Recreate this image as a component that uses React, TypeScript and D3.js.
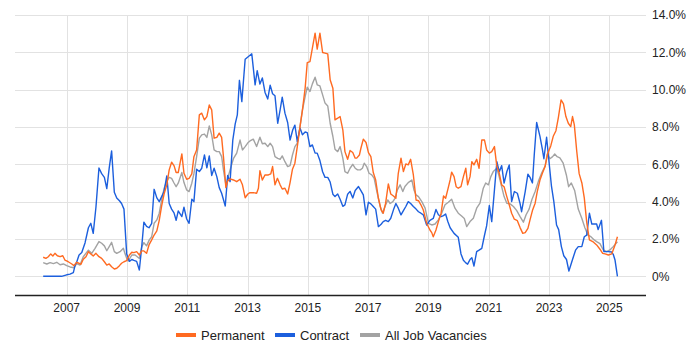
import React from "react";
import * as d3 from "d3";

const yearTicks = [2007, 2009, 2011, 2013, 2015, 2017, 2019, 2021, 2023, 2025];
const valueTicks = [0, 2, 4, 6, 8, 10, 12, 14];
const seriesNames = ["Permanent", "Contract", "All Job Vacancies"];
const seriesColors = ["#ff6a21", "#1c5fdd", "#a3a3a3"];

const permDates = [2006.22,2006.31,2006.39,2006.47,2006.54,2006.61,2006.69,2006.78,2006.87,2006.94,2007.05,2007.17,2007.24,2007.33,2007.41,2007.47,2007.55,2007.64,2007.72,2007.80,2007.88,2007.97,2008.07,2008.16,2008.25,2008.33,2008.41,2008.49,2008.58,2008.66,2008.75,2008.82,2008.90,2008.99,2009.08,2009.16,2009.23,2009.32,2009.41,2009.49,2009.56,2009.65,2009.73,2009.82,2009.90,2009.99,2010.07,2010.15,2010.23,2010.32,2010.40,2010.48,2010.56,2010.63,2010.70,2010.82,2010.89,2010.98,2011.06,2011.15,2011.22,2011.31,2011.40,2011.48,2011.57,2011.65,2011.73,2011.81,2011.89,2011.98,2012.06,2012.14,2012.20,2012.28,2012.34,2012.42,2012.53,2012.64,2012.75,2012.83,2012.92,2013.01,2013.08,2013.19,2013.30,2013.36,2013.41,2013.49,2013.58,2013.69,2013.77,2013.83,2013.91,2013.99,2014.08,2014.15,2014.24,2014.33,2014.41,2014.49,2014.57,2014.65,2014.74,2014.82,2014.91,2014.98,2015.07,2015.15,2015.24,2015.31,2015.40,2015.49,2015.57,2015.66,2015.74,2015.83,2015.90,2015.99,2016.07,2016.16,2016.23,2016.32,2016.40,2016.49,2016.57,2016.62,2016.71,2016.76,2016.84,2016.93,2017.01,2017.09,2017.17,2017.25,2017.34,2017.43,2017.50,2017.58,2017.67,2017.75,2017.84,2017.92,2018.00,2018.09,2018.17,2018.25,2018.33,2018.41,2018.50,2018.59,2018.67,2018.75,2018.83,2018.94,2019.05,2019.11,2019.16,2019.25,2019.33,2019.42,2019.50,2019.57,2019.64,2019.72,2019.77,2019.85,2019.92,2019.99,2020.08,2020.16,2020.24,2020.30,2020.38,2020.44,2020.51,2020.60,2020.68,2020.77,2020.86,2020.93,2021.02,2021.10,2021.19,2021.27,2021.35,2021.43,2021.51,2021.60,2021.68,2021.76,2021.85,2021.95,2022.04,2022.13,2022.21,2022.30,2022.37,2022.45,2022.54,2022.61,2022.70,2022.78,2022.87,2022.96,2023.06,2023.14,2023.23,2023.31,2023.40,2023.48,2023.56,2023.64,2023.72,2023.78,2023.84,2023.92,2024.00,2024.09,2024.17,2024.25,2024.34,2024.45,2024.58,2024.69,2024.78,2024.86,2024.97,2025.08,2025.19,2025.27];
const permValues = [1.02,0.96,1.05,1.2,1.09,1.23,1.1,1.05,1.1,0.87,0.78,0.66,0.57,0.75,0.7,0.64,0.91,1.05,1.32,1.2,1.09,1.23,1.05,0.96,0.78,0.6,0.66,0.51,0.39,0.43,0.57,0.7,0.78,0.84,1.14,1.29,1.27,1.32,1.14,1.36,1.36,1.23,1.68,1.95,2.21,2.43,3.0,3.77,4.41,4.9,5.7,6.11,5.93,5.56,5.56,6.56,5.52,5.2,5.25,5.49,6.41,6.77,8.65,8.74,8.38,8.56,9.18,8.92,7.4,7.44,7.67,7.44,6.41,4.75,5.1,5.22,5.16,5.07,5.2,4.9,4.21,4.41,4.48,4.48,4.45,4.72,5.66,5.16,5.43,5.43,5.49,5.88,4.9,5.25,4.9,4.68,4.72,4.41,5.02,5.74,6.06,6.95,8.02,8.9,10.08,11.45,11.5,12.22,13.03,12.17,13.03,11.99,11.96,11.92,10.53,10.08,8.38,8.47,8.56,7.85,6.68,6.27,6.74,6.63,6.33,6.33,6.5,6.86,7.35,7.17,6.63,6.41,5.56,5.16,4.18,3.56,3.38,3.92,4.95,4.41,4.3,4.18,5.52,6.33,5.61,6.02,5.97,6.27,5.43,4.09,4.05,3.83,3.55,2.84,2.48,2.34,2.12,2.48,2.93,3.38,4.3,4.18,4.63,5.16,5.58,5.34,4.8,4.72,4.8,5.34,5.79,4.9,5.34,6.14,5.97,6.27,5.79,7.3,7.3,6.77,6.6,6.68,6.95,5.88,5.52,4.9,4.8,4.27,3.83,3.38,3.06,2.98,2.61,2.3,2.34,2.57,3.02,3.52,3.92,4.54,5.16,5.52,5.88,6.6,7.0,7.5,7.8,8.5,9.45,9.24,8.56,8.2,8.02,8.56,8.11,6.7,5.5,5.0,4.2,2.9,1.95,1.86,1.68,1.45,1.23,1.2,1.14,1.2,1.68,2.12];

const contDates = [2006.22,2006.47,2006.61,2006.83,2007.00,2007.11,2007.22,2007.28,2007.33,2007.41,2007.50,2007.61,2007.72,2007.80,2007.88,2007.97,2008.07,2008.16,2008.25,2008.33,2008.41,2008.49,2008.58,2008.66,2008.75,2008.82,2008.90,2008.99,2009.08,2009.16,2009.23,2009.32,2009.41,2009.49,2009.56,2009.65,2009.73,2009.82,2009.90,2009.99,2010.07,2010.15,2010.23,2010.32,2010.40,2010.48,2010.56,2010.63,2010.70,2010.82,2010.89,2010.98,2011.06,2011.15,2011.22,2011.31,2011.40,2011.48,2011.57,2011.65,2011.73,2011.81,2011.89,2011.98,2012.06,2012.14,2012.26,2012.34,2012.42,2012.51,2012.59,2012.66,2012.73,2012.81,2012.92,2013.03,2013.14,2013.25,2013.32,2013.41,2013.49,2013.58,2013.67,2013.75,2013.83,2013.91,2014.00,2014.08,2014.15,2014.24,2014.33,2014.41,2014.50,2014.57,2014.65,2014.74,2014.82,2014.91,2014.98,2015.07,2015.15,2015.24,2015.31,2015.40,2015.49,2015.57,2015.66,2015.74,2015.83,2015.90,2015.99,2016.07,2016.16,2016.23,2016.32,2016.40,2016.49,2016.57,2016.68,2016.76,2016.84,2016.93,2017.01,2017.09,2017.17,2017.25,2017.34,2017.43,2017.50,2017.58,2017.67,2017.75,2017.84,2017.92,2018.00,2018.09,2018.17,2018.25,2018.33,2018.41,2018.50,2018.59,2018.67,2018.75,2018.83,2018.94,2019.05,2019.16,2019.25,2019.33,2019.42,2019.50,2019.57,2019.64,2019.72,2019.85,2019.99,2020.08,2020.16,2020.24,2020.30,2020.38,2020.44,2020.51,2020.60,2020.68,2020.77,2020.86,2020.93,2021.02,2021.10,2021.19,2021.27,2021.35,2021.43,2021.51,2021.60,2021.68,2021.76,2021.85,2021.95,2022.04,2022.09,2022.21,2022.30,2022.37,2022.45,2022.51,2022.59,2022.70,2022.78,2022.83,2022.92,2022.99,2023.08,2023.16,2023.25,2023.32,2023.41,2023.49,2023.58,2023.66,2023.78,2023.88,2023.97,2024.09,2024.17,2024.25,2024.34,2024.42,2024.58,2024.63,2024.74,2024.82,2024.97,2025.08,2025.13,2025.19,2025.27];
const contValues = [0,0,0,0,0.08,0.12,0.2,0.6,0.75,1.14,1.27,1.8,2.6,2.84,2.3,3.7,5.8,5.5,5.3,4.7,5.8,6.72,4.5,4.2,4.05,3.9,3.6,1.2,0.8,0.9,0.85,0.8,0.34,1.6,2.9,2.68,2.6,2.84,4.66,4.2,4.0,4.27,4.54,5.38,3.9,3.6,3.4,3.0,3.5,3.2,3.7,3.07,2.84,4.13,4.0,5.74,5.61,5.79,6.5,5.81,6.45,5.4,5.79,5.34,4.75,4.45,3.77,5.4,5.07,7.3,8.17,8.65,10.5,9.36,11.63,11.78,11.92,10.26,11.02,10.3,10.63,9.85,9.5,10.24,9.78,9.67,8.2,8.92,9.6,8.74,8.24,7.3,7.85,8.1,7.22,7.94,7.58,7.73,7.7,6.95,7.04,6.6,6.6,6.2,5.6,5.3,5.3,5.05,4.4,4.27,4.41,4.13,3.75,3.83,4.4,4.55,4.2,4.6,4.81,4.59,4.36,3.29,3.97,3.88,3.74,3.6,2.66,2.79,2.93,3.0,2.93,3.11,3.56,3.9,3.65,3.29,3.52,3.74,4.0,3.9,3.74,3.6,3.46,3.38,3.29,2.75,3.0,3.1,3.58,3.3,3.2,3.25,3.34,2.95,2.6,2.3,2.09,1.2,0.86,0.72,0.65,0.9,1.0,0.55,1.32,1.4,1.5,2.2,2.7,3.79,2.93,4.63,6.14,5.6,5.93,4.99,5.6,5.97,4.0,4.54,4.45,3.9,3.46,4.54,5.47,5.3,5.0,6.5,8.24,7.5,6.8,6.3,7.45,6.3,4.85,4.0,2.75,2.5,1.59,1.1,0.9,0.28,0.9,1.4,1.59,1.6,2.12,2.21,3.38,2.8,2.8,2.5,3.0,1.32,1.32,1.3,1.18,0.87,0];

const allDates = [2006.22,2006.34,2006.45,2006.56,2006.67,2006.78,2006.89,2007.00,2007.11,2007.24,2007.33,2007.44,2007.55,2007.72,2007.83,2007.94,2008.07,2008.16,2008.25,2008.33,2008.41,2008.49,2008.58,2008.66,2008.77,2008.88,2008.93,2008.99,2009.04,2009.16,2009.27,2009.34,2009.41,2009.49,2009.56,2009.65,2009.74,2009.82,2009.90,2009.99,2010.07,2010.15,2010.23,2010.32,2010.40,2010.48,2010.56,2010.63,2010.70,2010.82,2010.89,2010.98,2011.06,2011.15,2011.22,2011.31,2011.40,2011.48,2011.57,2011.65,2011.73,2011.81,2011.89,2011.98,2012.06,2012.14,2012.20,2012.28,2012.34,2012.42,2012.53,2012.64,2012.75,2012.83,2012.92,2013.01,2013.08,2013.19,2013.30,2013.41,2013.49,2013.58,2013.67,2013.75,2013.83,2013.91,2014.00,2014.08,2014.15,2014.24,2014.33,2014.41,2014.49,2014.57,2014.65,2014.74,2014.82,2014.91,2014.98,2015.07,2015.15,2015.24,2015.31,2015.40,2015.49,2015.57,2015.66,2015.74,2015.83,2015.90,2015.99,2016.07,2016.16,2016.23,2016.32,2016.40,2016.49,2016.57,2016.65,2016.74,2016.81,2016.87,2016.95,2017.03,2017.12,2017.20,2017.29,2017.40,2017.48,2017.56,2017.65,2017.73,2017.82,2017.89,2017.97,2018.06,2018.15,2018.22,2018.33,2018.45,2018.52,2018.59,2018.67,2018.78,2018.89,2019.00,2019.11,2019.22,2019.33,2019.44,2019.55,2019.66,2019.77,2019.88,2019.99,2020.10,2020.19,2020.27,2020.38,2020.49,2020.60,2020.71,2020.82,2020.90,2020.99,2021.07,2021.15,2021.27,2021.34,2021.43,2021.51,2021.60,2021.71,2021.82,2021.93,2022.04,2022.15,2022.24,2022.34,2022.43,2022.54,2022.65,2022.76,2022.87,2022.94,2023.03,2023.12,2023.19,2023.27,2023.36,2023.47,2023.58,2023.65,2023.74,2023.85,2023.97,2024.09,2024.19,2024.29,2024.39,2024.50,2024.58,2024.69,2024.80,2024.91,2025.02,2025.13,2025.27];
const allValues = [0.73,0.66,0.73,0.68,0.75,0.62,0.66,0.57,0.5,0.46,0.68,0.6,1.05,1.4,1.23,1.5,1.86,1.77,1.63,1.37,1.59,1.82,1.32,1.23,1.32,1.5,1.23,0.96,0.82,1.14,1.14,1.05,0.96,1.59,1.8,1.63,1.95,2.12,2.84,3.02,3.38,4.09,4.7,5.1,5.3,5.25,5.0,4.8,4.99,5.56,5.02,4.63,4.54,4.99,5.5,6.41,7.4,7.58,7.62,7.44,8.06,7.58,6.77,6.68,6.68,6.41,5.7,4.9,5.25,5.7,6.3,6.6,7.3,6.77,6.95,7.15,7.25,7.35,6.95,7.45,7.1,7.13,6.95,7.13,6.95,6.41,6.32,6.27,6.45,6.14,5.88,5.93,6.5,6.95,7.13,8.02,8.9,9.63,10.13,9.9,10.31,10.67,10.26,10.2,9.72,9.28,9.13,8.2,7.49,6.81,6.68,6.95,6.33,5.61,5.52,5.79,6.0,5.79,5.7,5.7,5.79,6.06,5.88,5.52,5.43,5.25,4.54,3.74,3.38,3.74,4.09,3.9,4.0,4.18,4.63,4.9,4.54,4.81,5.02,5.16,4.63,4.36,4.27,4.0,3.65,2.84,2.75,2.8,3.02,3.38,3.83,3.97,4.13,3.65,3.38,3.23,3.1,2.66,2.93,3.11,3.65,3.92,4.72,5.0,4.9,5.34,5.61,5.79,5.38,4.8,4.27,3.91,3.88,3.74,3.52,3.2,2.9,3.3,3.6,4.1,4.54,5.1,5.55,5.9,6.56,6.3,6.41,6.55,6.41,6.35,6.06,5.4,4.8,5.0,4.6,3.6,3.1,2.6,2.21,2.12,1.95,1.86,1.75,1.41,1.32,1.41,1.59,1.85];

const W = 700;
const H = 350;
const plotLeft = 15;
const plotRight = 646;
const plotTop = 15;
const baseY = 295.5;
const font = "'Liberation Sans', Arial, sans-serif";

export default function App() {
  const x = d3.scaleLinear().domain([2007, 2025]).range([66.7, 609.3]);
  const y = d3.scaleLinear().domain([0, 14]).range([276.3, 15]);

  const makeLine = (dates: number[], values: number[]) =>
    d3
      .line<number>()
      .x((_, i) => x(dates[i]))
      .y((v) => y(v))(values) || "";

  const series = [
    { d: makeLine(allDates, allValues), color: seriesColors[2] },
    { d: makeLine(contDates, contValues), color: seriesColors[1] },
    { d: makeLine(permDates, permValues), color: seriesColors[0] },
  ];

  const legendItems = [
    { x: 176, textX: 201 },
    { x: 275, textX: 300 },
    { x: 360, textX: 385 },
  ];

  return (
    <svg
      width={W}
      height={H}
      style={{ position: "absolute", left: 0, top: 0, background: "#fff" }}
      fontFamily={font}
    >
      <rect x={0} y={0} width={W} height={H} fill="#fff" />
      {valueTicks.map((t) => (
        <line
          key={"h" + t}
          x1={plotLeft}
          x2={plotRight}
          y1={Math.round(y(t)) + 0.5}
          y2={Math.round(y(t)) + 0.5}
          stroke="#e2e2e2"
          strokeWidth={1}
        />
      ))}
      {yearTicks.map((t) => (
        <line
          key={"v" + t}
          x1={Math.round(x(t)) + 0.5}
          x2={Math.round(x(t)) + 0.5}
          y1={plotTop}
          y2={baseY}
          stroke="#e2e2e2"
          strokeWidth={1}
        />
      ))}
      {series.map((s, i) => (
        <path
          key={i}
          d={s.d}
          fill="none"
          stroke={s.color}
          strokeWidth={1.4}
          strokeLinejoin="round"
        />
      ))}
      <line x1={plotLeft} x2={plotRight} y1={baseY} y2={baseY} stroke="#222" strokeWidth={1.5} />
      {valueTicks.map((t) => (
        <text
          key={"yl" + t}
          x={652}
          y={y(t) + 4.3}
          fontSize={12}
          fill="#222"
          textAnchor="start"
        >
          {t === 0 ? "0%" : t.toFixed(1) + "%"}
        </text>
      ))}
      {yearTicks.map((t) => (
        <text key={"xl" + t} x={x(t)} y={312} fontSize={12} fill="#222" textAnchor="middle">
          {t}
        </text>
      ))}
      {seriesNames.map((name, i) => (
        <g key={name}>
          <rect x={legendItems[i].x} y={333} width={20} height={4} fill={seriesColors[i]} />
          <text x={legendItems[i].textX} y={340} fontSize={13} fill="#222">
            {name}
          </text>
        </g>
      ))}
    </svg>
  );
}
